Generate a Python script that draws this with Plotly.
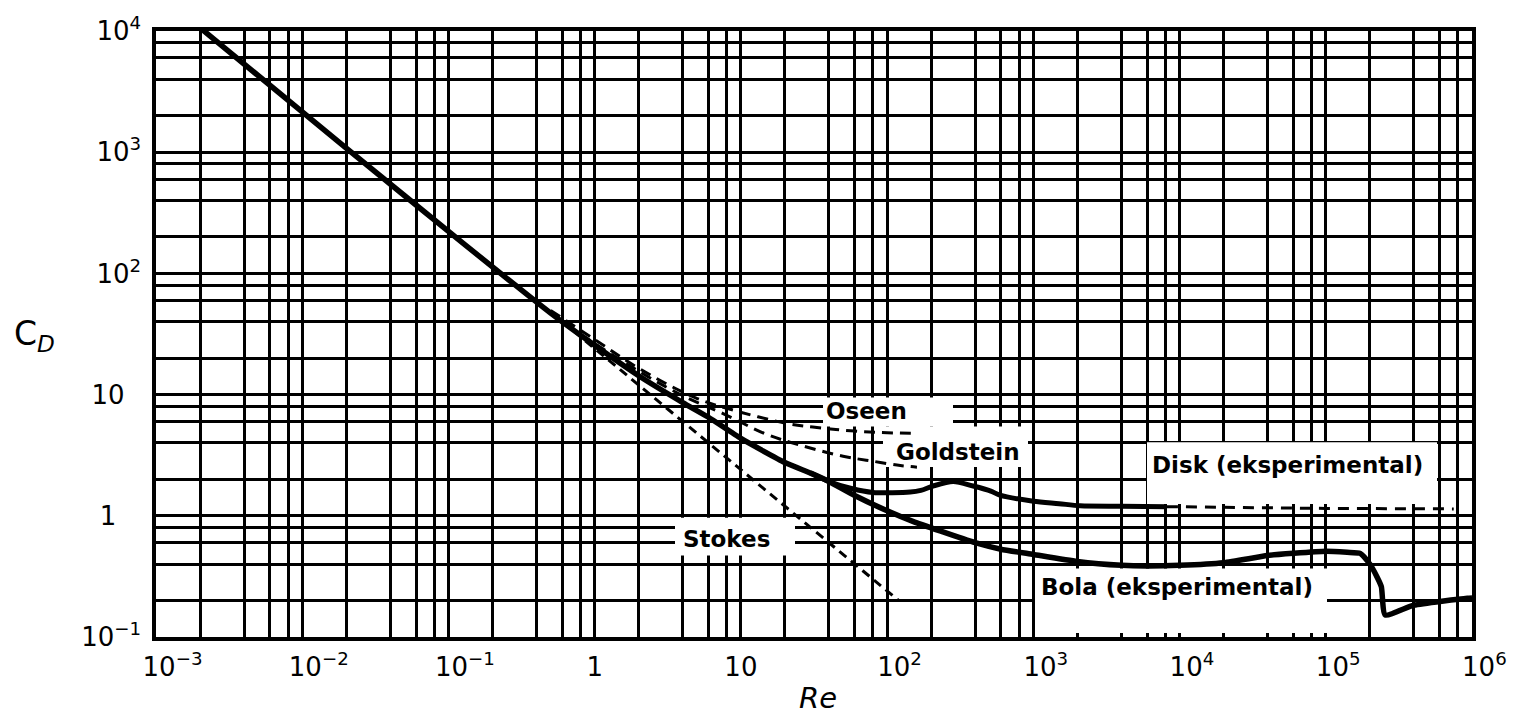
import plotly.graph_objects as go

# ---------------- data ----------------
re_sphere = [0.0019, 0.02, 0.13, 0.5, 1, 2, 4, 6, 10, 20, 30, 40, 60, 100, 150, 230,
             400, 600, 1000, 2000, 4000, 6000, 10000, 20000, 40000, 60000, 100000,
             140000, 172000, 200000, 225000, 240000, 255000, 400000, 930000, 1000000]
cd_sphere = [11200, 1080, 172, 47, 25.5, 14.3, 8.6, 6.5, 4.35, 2.75, 2.25, 1.92, 1.47, 1.1, 0.9, 0.75,
             0.6, 0.53, 0.48, 0.42, 0.39, 0.385, 0.39, 0.41, 0.47, 0.49, 0.51,
             0.50, 0.49, 0.40, 0.31, 0.26, 0.152, 0.183, 0.209, 0.21]

re_disk = [30, 40, 57, 80, 144, 170, 206, 283, 388, 512, 590, 1000, 1500, 2090, 4000, 8200]
cd_disk = [2.25, 1.92, 1.68, 1.56, 1.57, 1.62, 1.76, 1.92, 1.76, 1.6, 1.48, 1.32, 1.26, 1.21, 1.2, 1.19]

re_disk_ext = [8200, 20000, 100000, 750000]
cd_disk_ext = [1.19, 1.17, 1.15, 1.14]

re_stokes = [0.5, 1, 10, 120]
cd_stokes = [48, 24, 2.4, 0.2]

re_oseen = [0.5, 1, 2, 4.9, 9.4, 21, 31, 60, 100, 160]
cd_oseen = [49.5, 28.5, 16.5, 9.4, 7.3, 5.76, 5.4, 5.0, 4.85, 4.78]

re_goldstein = [0.8, 2, 4, 7.5, 15, 25, 50, 80, 123, 160]
cd_goldstein = [31.5, 15.6, 9.8, 7.0, 4.7, 3.85, 3.1, 2.82, 2.6, 2.52]

x_tickvals = [1e-3, 1e-2, 1e-1, 1, 10, 1e2, 1e3, 1e4, 1e5, 1e6]
x_ticktext = ["10<sup>−3</sup>", "10<sup>−2</sup>", "10<sup>−1</sup>", "1", "10",
              "10<sup>2</sup>", "10<sup>3</sup>", "10<sup>4</sup>", "10<sup>5</sup>", "10<sup>6</sup>"]
y_tickvals = [1e-1, 1, 10, 1e2, 1e3, 1e4]
y_ticktext = ["10<sup>−1</sup>", "1", "10", "10<sup>2</sup>", "10<sup>3</sup>", "10<sup>4</sup>"]

minor_mult = [2, 4, 6, 8]
x_minor = [m * 10.0 ** e for e in range(-3, 6) for m in minor_mult]
y_minor = [m * 10.0 ** e for e in range(-1, 4) for m in minor_mult]

label_texts = ["Oseen", "Goldstein", "Disk (eksperimental)", "Stokes", "Bola (eksperimental)"]

# ---------------- geometry (pixels of the 1520x716 canvas) ----------------
W, H = 1520, 716
L, R, T, B = 156, 1472, 27, 637
XLOG = (-3, 6)
YLOG = (-1, 4)


def px(x):
    return (x - L) / (R - L)


def py(y):
    return (B - y) / (B - T)


def dx(x):  # pixel -> axis data value (log axis)
    return 10 ** (XLOG[0] + px(x) * (XLOG[1] - XLOG[0]))


def dy(y):
    return 10 ** (YLOG[0] + py(y) * (YLOG[1] - YLOG[0]))


NB = "\u00a0"


def pad_x(t):
    if "−" in t:
        return NB * 4 + t
    if "<sup>" in t:
        return NB * 3 + t
    return t


def pad_y(t):
    if t == "1":
        return t + NB * 3
    if t == "10":
        return t + NB * 2
    return t


fig = go.Figure()

fig.add_trace(go.Scatter(x=re_stokes, y=cd_stokes, mode="lines",
                         line=dict(color="black", width=3, dash="9px,6px")))
fig.add_trace(go.Scatter(x=re_oseen, y=cd_oseen, mode="lines", line_shape="spline",
                         line=dict(color="black", width=3, dash="11px,7px")))
fig.add_trace(go.Scatter(x=re_goldstein, y=cd_goldstein, mode="lines", line_shape="spline",
                         line=dict(color="black", width=3, dash="11px,7px")))
fig.add_trace(go.Scatter(x=re_disk_ext, y=cd_disk_ext, mode="lines",
                         line=dict(color="black", width=3, dash="11px,8px")))
fig.add_trace(go.Scatter(x=re_disk, y=cd_disk, mode="lines", line_shape="spline",
                         line=dict(color="black", width=5, smoothing=0.8)))
fig.add_trace(go.Scatter(x=re_sphere, y=cd_sphere, mode="lines", line_shape="spline",
                         line=dict(color="black", width=5.5, smoothing=0.5)))

# white label patches that break the grid (drawn between grid and curves)
patches = [(823, 396, 953, 425), (883, 425, 1028, 466), (1147, 441, 1437, 503),
           (675, 517, 795, 555), (1035, 568, 1327, 633)]
for x0, y0, x1, y1 in patches:
    fig.add_shape(type="rect", xref="x", yref="y",
                  x0=dx(x0), x1=dx(x1), y0=dy(y1), y1=dy(y0),
                  fillcolor="white", line=dict(width=0), layer="between")

label_pos = [(866, 410), (958, 451), (1287, 464), (726, 538), (1177, 587)]
for txt, (ax, ay) in zip(label_texts, label_pos):
    fig.add_annotation(text="<b>" + txt + "</b>", x=px(ax), y=py(ay), xref="paper", yref="paper",
                       showarrow=False, xanchor="center", yanchor="middle",
                       font=dict(family="DejaVu Sans", size=23, color="black"))

fig.add_annotation(text="C<sub><i>D</i></sub>", x=px(35), y=py(334), xref="paper", yref="paper",
                   showarrow=False, xanchor="center", yanchor="middle",
                   font=dict(family="DejaVu Sans", size=33, color="black"))
fig.add_annotation(text="<i>Re</i>", x=px(818), y=py(698), xref="paper", yref="paper",
                   showarrow=False, xanchor="center", yanchor="middle",
                   font=dict(family="DejaVu Sans", size=29, color="black"))

axis_common = dict(type="log", showline=True, linecolor="black", linewidth=3.5, mirror=True,
                   showgrid=True, gridcolor="black", gridwidth=2.8, zeroline=False,
                   ticks="", tickfont=dict(family="DejaVu Sans", size=26, color="black"))

fig.update_xaxes(range=list(XLOG), tickvals=x_tickvals, ticktext=[pad_x(t) for t in x_ticktext],
                 minor=dict(tickvals=x_minor, showgrid=True, gridcolor="black", gridwidth=2.8, ticks=""),
                 ticklabelstandoff=4, **axis_common)
fig.update_yaxes(range=list(YLOG), tickvals=y_tickvals, ticktext=[pad_y(t) for t in y_ticktext],
                 minor=dict(tickvals=y_minor, showgrid=True, gridcolor="black", gridwidth=2.8, ticks=""),
                 ticklabelstandoff=6, **axis_common)

fig.update_layout(width=W, height=H, showlegend=False,
                  margin=dict(l=L, r=W - R, t=T, b=H - B),
                  paper_bgcolor="white", plot_bgcolor="white")

fig.write_html("out.html")
